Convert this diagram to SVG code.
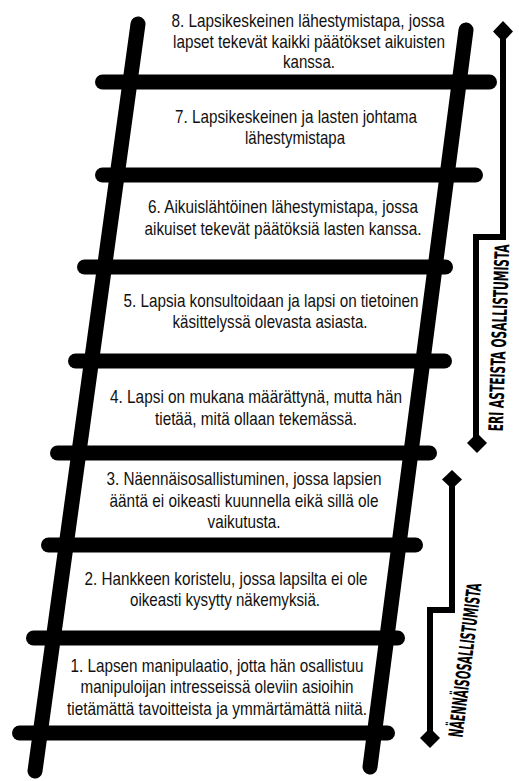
<svg xmlns="http://www.w3.org/2000/svg" width="519" height="781" viewBox="0 0 519 781">
  <style>
    .bar { stroke: #000; stroke-width: 15; stroke-linecap: round; fill: none; }
    .step { font-family: "Liberation Sans Narrow", "Liberation Sans", Arial, sans-serif; font-size: 19px; fill: #111; text-anchor: middle; }
    .bracket { stroke: #000; stroke-width: 6; fill: none; stroke-linejoin: miter; }
    .tip { fill: #000; }
    .side { font-family: "Liberation Sans Narrow", "DejaVu Sans Condensed", "Liberation Sans", sans-serif; font-weight: bold; font-size: 20px; fill: #000; text-anchor: middle; }
  </style>
  <rect width="519" height="781" fill="#fff"/>

  <!-- ladder: two slanted rails and eight rungs -->
  <g id="ladder">
    <line class="bar" x1="138" y1="24" x2="35" y2="771"/>
    <line class="bar" x1="466" y1="30" x2="370" y2="767"/>
    <line class="bar" x1="102.5" y1="82" x2="489.5" y2="82"/>
    <line class="bar" x1="102.5" y1="175" x2="475.5" y2="175"/>
    <line class="bar" x1="84.5" y1="267" x2="445.5" y2="267"/>
    <line class="bar" x1="75.5" y1="361" x2="444.5" y2="361"/>
    <line class="bar" x1="57.5" y1="453" x2="429.5" y2="453"/>
    <line class="bar" x1="48.5" y1="545" x2="415.5" y2="545"/>
    <line class="bar" x1="33.5" y1="638" x2="397.5" y2="638"/>
    <line class="bar" x1="19.5" y1="733" x2="387.5" y2="733"/>
  </g>

  <!-- step labels, top (8) to bottom (1) -->
  <g id="step8" class="step">
    <text x="308" y="27" textLength="273" lengthAdjust="spacingAndGlyphs">8. Lapsikeskeinen lähestymistapa, jossa</text>
    <text x="309" y="48" textLength="272" lengthAdjust="spacingAndGlyphs">lapset tekevät kaikki päätökset aikuisten</text>
    <text x="309" y="68" textLength="52" lengthAdjust="spacingAndGlyphs">kanssa.</text>
  </g>
  <g id="step7" class="step">
    <text x="296" y="123" textLength="242" lengthAdjust="spacingAndGlyphs">7. Lapsikeskeinen ja lasten johtama</text>
    <text x="295" y="144" textLength="100" lengthAdjust="spacingAndGlyphs">lähestymistapa</text>
  </g>
  <g id="step6" class="step">
    <text x="283" y="213" textLength="270" lengthAdjust="spacingAndGlyphs">6. Aikuislähtöinen lähestymistapa, jossa</text>
    <text x="283" y="235" textLength="277" lengthAdjust="spacingAndGlyphs">aikuiset tekevät päätöksiä lasten kanssa.</text>
  </g>
  <g id="step5" class="step">
    <text x="271" y="307" textLength="295" lengthAdjust="spacingAndGlyphs">5. Lapsia konsultoidaan ja lapsi on tietoinen</text>
    <text x="270" y="328" textLength="195" lengthAdjust="spacingAndGlyphs">käsittelyssä olevasta asiasta.</text>
  </g>
  <g id="step4" class="step">
    <text x="256" y="403" textLength="292" lengthAdjust="spacingAndGlyphs">4. Lapsi on mukana määrättynä, mutta hän</text>
    <text x="256" y="425" textLength="202" lengthAdjust="spacingAndGlyphs">tietää, mitä ollaan tekemässä.</text>
  </g>
  <g id="step3" class="step">
    <text x="244" y="485" textLength="275" lengthAdjust="spacingAndGlyphs">3. Näennäisosallistuminen, jossa lapsien</text>
    <text x="244" y="507" textLength="269" lengthAdjust="spacingAndGlyphs">ääntä ei oikeasti kuunnella eikä sillä ole</text>
    <text x="244" y="528" textLength="73" lengthAdjust="spacingAndGlyphs">vaikutusta.</text>
  </g>
  <g id="step2" class="step">
    <text x="226" y="585" textLength="283" lengthAdjust="spacingAndGlyphs">2. Hankkeen koristelu, jossa lapsilta ei ole</text>
    <text x="225" y="606" textLength="190" lengthAdjust="spacingAndGlyphs">oikeasti kysytty näkemyksiä.</text>
  </g>
  <g id="step1" class="step">
    <text x="217" y="672" textLength="293" lengthAdjust="spacingAndGlyphs">1. Lapsen manipulaatio, jotta hän osallistuu</text>
    <text x="217" y="693" textLength="273" lengthAdjust="spacingAndGlyphs">manipuloijan intresseissä oleviin asioihin</text>
    <text x="217" y="715" textLength="300" lengthAdjust="spacingAndGlyphs">tietämättä tavoitteista ja ymmärtämättä niitä.</text>
  </g>

  <!-- range brackets on the right -->
  <g id="connectors">
    <g id="range-participation">
      <polyline class="bracket" points="503,31 503,237 476,237 476,443"/>
      <polygon class="tip" points="503,21 513,31.5 503,42 493,31.5"/>
      <polygon class="tip" points="477,433 487,443 477,453 467,443"/>
    </g>
    <g id="range-tokenism">
      <polyline class="bracket" points="452,480 452,610 430,610 430,738"/>
      <polygon class="tip" points="452,470 462,479.5 452,489 442,479.5"/>
      <polygon class="tip" points="430,728 440,738 430,748 420,738"/>
    </g>
  </g>

  <g id="label-participation">
    <text class="side" transform="translate(506,338) rotate(-88)" textLength="187" lengthAdjust="spacingAndGlyphs">ERI ASTEISTA OSALLISTUMISTA</text>
  </g>
  <g id="label-tokenism">
    <text class="side" transform="translate(472,661) rotate(-83)" textLength="155" lengthAdjust="spacingAndGlyphs">NÄENNÄISOSALLISTUMISTA</text>
  </g>
</svg>
